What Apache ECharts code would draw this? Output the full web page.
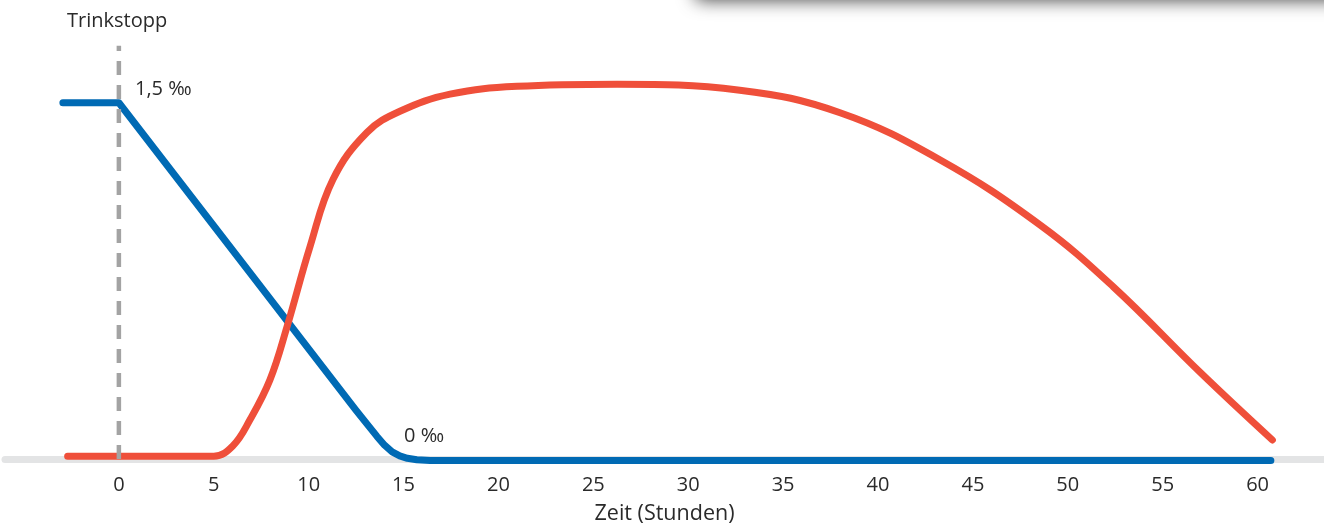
<!DOCTYPE html>
<html>
<head>
<meta charset="utf-8">
<script src="https://cdn.jsdelivr.net/npm/echarts@6/dist/echarts.min.js"></script>
<style>
html,body{margin:0;padding:0;background:#fff;}
#chart{width:1324px;height:524px;}
</style>
</head>
<body>
<div id="chart"></div>
<script>
// Time axis (hours) tick labels
const tickValues = [0, 5, 10, 15, 20, 25, 30, 35, 40, 45, 50, 55, 60];

// Blood alcohol (‰) – blue line: [hours, value]
const alcoholSeries = [
  [-2.95, 1.5], [0, 1.5], [12.5, 0.205], [13.07, 0.148], [13.6, 0.095],
  [14.0, 0.058], [14.4, 0.03], [14.8, 0.013], [15.2, 0.003], [15.7, -0.003],
  [16.4, -0.006], [60.7, -0.006]
];

// After-effect curve – red line: [hours, value]
const afterEffectSeries = [
  [-2.7, 0.012], [5.0, 0.012], [6.0, 0.055], [6.9, 0.164],
  [7.96, 0.333], [8.86, 0.557], [10.07, 0.894], [11.28, 1.177],
  [13.07, 1.375], [14.81, 1.464], [17.45, 1.536], [20.98, 1.569], [26.25, 1.578],
  [32.72, 1.553], [38.0, 1.458], [43.28, 1.259], [48.55, 0.985],
  [52.4, 0.725], [57.0, 0.363], [60.78, 0.08]
];

// Drinking stop marker (vertical dashed line at t = 0)
const drinkStopLine = [[0, 0], [0, 1.74]];

const labels = {
  stop: 'Trinkstopp',
  high: '1,5 ‰',
  zero: '0 ‰',
  xName: 'Zeit (Stunden)'
};

const FONT = '"Open Sans", "Noto Sans", sans-serif';
const TEXT = '#2a2a2a';

const chart = echarts.init(document.getElementById('chart'), null, {renderer: 'canvas'});
chart.setOption({
  animation: false,
  backgroundColor: '#ffffff',
  grid: {left: 5, right: 0, top: 31.5, height: 427.5, containLabel: false, outerBoundsMode: 'none'},
  xAxis: {
    type: 'value',
    min: -6, max: 63.5,
    splitLine: {show: false},
    axisTick: {show: false},
    axisLine: {show: true, onZero: false, lineStyle: {color: '#e3e4e5', width: 7}},
    axisLabel: {
      customValues: tickValues,
      fontSize: 20, color: TEXT, fontFamily: FONT, margin: 16
    },
    name: labels.xName,
    nameLocation: 'middle',
    nameGap: 43.5,
    nameTextStyle: {fontSize: 21.5, color: TEXT, fontFamily: FONT}
  },
  yAxis: {
    type: 'value', min: 0, max: 1.8, show: false,
    splitLine: {show: false}
  },
  series: [
    {
      name: 'Promille', type: 'line', data: alcoholSeries,
      showSymbol: false, symbol: 'none', clip: false, z: 2,
      lineStyle: {color: '#006ab4', width: 7, cap: 'round', join: 'round'}
    },
    {
      name: 'Nachwirkung', type: 'line', data: afterEffectSeries,
      showSymbol: false, symbol: 'none', clip: false, z: 3,
      smooth: 0.4,
      lineStyle: {color: '#ef4f3a', width: 7, cap: 'round', join: 'round'}
    },
    {
      name: 'Trinkstopp', type: 'line', data: drinkStopLine,
      showSymbol: false, symbol: 'none', clip: false, z: 4,
      lineStyle: {color: '#a3a3a3', width: 4.5, type: [14, 10], cap: 'butt'}
    }
  ],
  graphic: [
    {
      type: 'rect', z: 10, silent: true,
      shape: {x: 695, y: -40, width: 700, height: 34, r: 6},
      style: {fill: '#ffffff', shadowBlur: 18, shadowColor: 'rgba(0,0,0,0.75)', shadowOffsetY: 6}
    },
    {
      type: 'text', x: 67, y: 21.5,
      style: {text: labels.stop, fontSize: 20, fill: TEXT, fontFamily: FONT, verticalAlign: 'middle'}
    },
    {
      type: 'text', x: 135, y: 89,
      style: {text: labels.high, fontSize: 20, fill: TEXT, fontFamily: FONT, verticalAlign: 'middle'}
    },
    {
      type: 'text', x: 404, y: 436.5,
      style: {text: labels.zero, fontSize: 20, fill: TEXT, fontFamily: FONT, verticalAlign: 'middle'}
    }
  ]
});
</script>
</body>
</html>
